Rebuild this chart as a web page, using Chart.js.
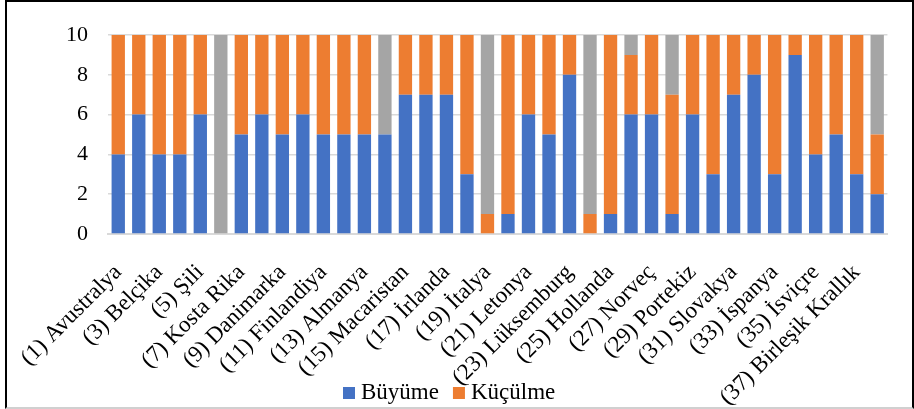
<!DOCTYPE html>
<html>
<head>
<meta charset="utf-8">
<script src="https://cdn.jsdelivr.net/npm/chart.js@4.4.1/dist/chart.umd.min.js"></script>
<style>
  html, body { margin: 0; padding: 0; background: #fff; }
  #wrap { position: relative; width: 914px; height: 409px; overflow: hidden; }
  #c { position: absolute; left: 0; top: 0; }
  #frame { position: absolute; left: 5px; top: 0; width: 909px; height: 409px; box-sizing: border-box;
           border-left: 2px solid #000; border-top: 2px solid #000; border-right: 2px solid #000;
           border-bottom: 2px solid #d0d0d0; pointer-events: none; }
</style>
</head>
<body>
<div id="wrap">
  <canvas id="c" width="914" height="409"></canvas>
  <div id="frame"></div>
</div>
<script>
const categories = [
  "(1) Avustralya", "(2) Avusturya", "(3) Belçika", "(4) Kanada", "(5) Şili", "(6) Kolombiya",
  "(7) Kosta Rika", "(8) Çekya", "(9) Danimarka", "(10) Estonya", "(11) Finlandiya", "(12) Fransa",
  "(13) Almanya", "(14) Yunanistan", "(15) Macaristan", "(16) İzlanda", "(17) İrlanda", "(18) İsrail",
  "(19) İtalya", "(20) Japonya", "(21) Letonya", "(22) Litvanya", "(23) Lüksemburg", "(24) Meksika",
  "(25) Hollanda", "(26) Yeni Zelanda", "(27) Norveç", "(28) Polonya", "(29) Portekiz", "(30) Kore",
  "(31) Slovakya", "(32) Slovenya", "(33) İspanya", "(34) İsveç", "(35) İsviçre", "(36) Türkiye",
  "(37) Birleşik Krallık", "(38) ABD"
];
const buyume  = [4,6,4,4,6,0,5,6,5,6,5,5,5,5,7,7,7,3,0,1,6,5,8,0,1,6,6,1,6,3,7,8,3,9,4,5,3,2];
const kuculme = [6,4,6,6,4,0,5,4,5,4,5,5,5,0,3,3,3,7,1,9,4,5,2,1,9,3,4,6,4,7,3,2,7,1,6,5,7,3];
const degisimYok = [0,0,0,0,0,10,0,0,0,0,0,0,0,5,0,0,0,0,9,0,0,0,0,9,0,1,0,3,0,0,0,0,0,0,0,0,0,5];
const yTicks = [0,2,4,6,8,10];
const legendSeries = ['Büyüme', 'Küçülme'];

const FONT = "'Liberation Serif', 'Times New Roman', serif";
Chart.defaults.font.family = FONT;
Chart.defaults.color = '#000';

const bottomLegend = {
  id: 'bottomLegend',
  afterDraw(chart) {
    const ctx = chart.ctx;
    const items = chart.data.datasets.filter(d => legendSeries.includes(d.label));
    ctx.save();
    ctx.font = "23px " + FONT;
    ctx.textBaseline = 'middle';
    ctx.textAlign = 'left';
    const box = 12, gap = 6, itemGap = 14;
    const widths = items.map(d => ctx.measureText(d.label).width);
    const total = widths.reduce((a, w) => a + box + gap + w, 0) + itemGap * (items.length - 1);
    let x = Math.round(chart.width * 0.491 - total / 2);
    const y = 393;
    items.forEach((d, i) => {
      ctx.fillStyle = d.backgroundColor;
      ctx.fillRect(x, y - box / 2, box, box);
      x += box + gap;
      ctx.fillStyle = '#000';
      ctx.fillText(d.label, x, y);
      x += widths[i] + itemGap;
    });
    ctx.restore();
  }
};

new Chart(document.getElementById('c'), {
  type: 'bar',
  data: {
    labels: categories,
    datasets: [
      { label: 'Büyüme', data: buyume, backgroundColor: '#4472C4' },
      { label: 'Küçülme', data: kuculme, backgroundColor: '#ED7D31' },
      { label: 'Değişim yok', data: degisimYok, backgroundColor: '#A5A5A5' }
    ]
  },
  plugins: [bottomLegend],
  options: {
    responsive: false,
    animation: false,
    barPercentage: 0.65,
    categoryPercentage: 1.0,
    layout: { padding: { top: 35, right: 22, left: 0, bottom: 0 } },
    plugins: {
      tooltip: { enabled: false },
      legend: { display: false }
    },
    scales: {
      x: {
        stacked: true,
        grid: { display: false },
        border: { color: '#d9d9d9', width: 2 },
        ticks: {
          autoSkip: false,
          maxRotation: 45,
          minRotation: 45,
          padding: 17,
          font: { size: 23 },
          callback: function(v, i) { return i % 2 === 0 ? categories[i] : ''; }
        },
        afterFit: (s) => { s.height = 175; }
      },
      y: {
        stacked: true,
        min: 0,
        max: 10,
        afterBuildTicks: (s) => { s.ticks = yTicks.map(v => ({ value: v })); },
        grid: { color: '#d9d9d9', lineWidth: 1.5, drawTicks: false },
        border: { display: false },
        ticks: { padding: 20, font: { size: 22 } },
        afterFit: (s) => { s.width = 108; }
      }
    }
  }
});
</script>
</body>
</html>
